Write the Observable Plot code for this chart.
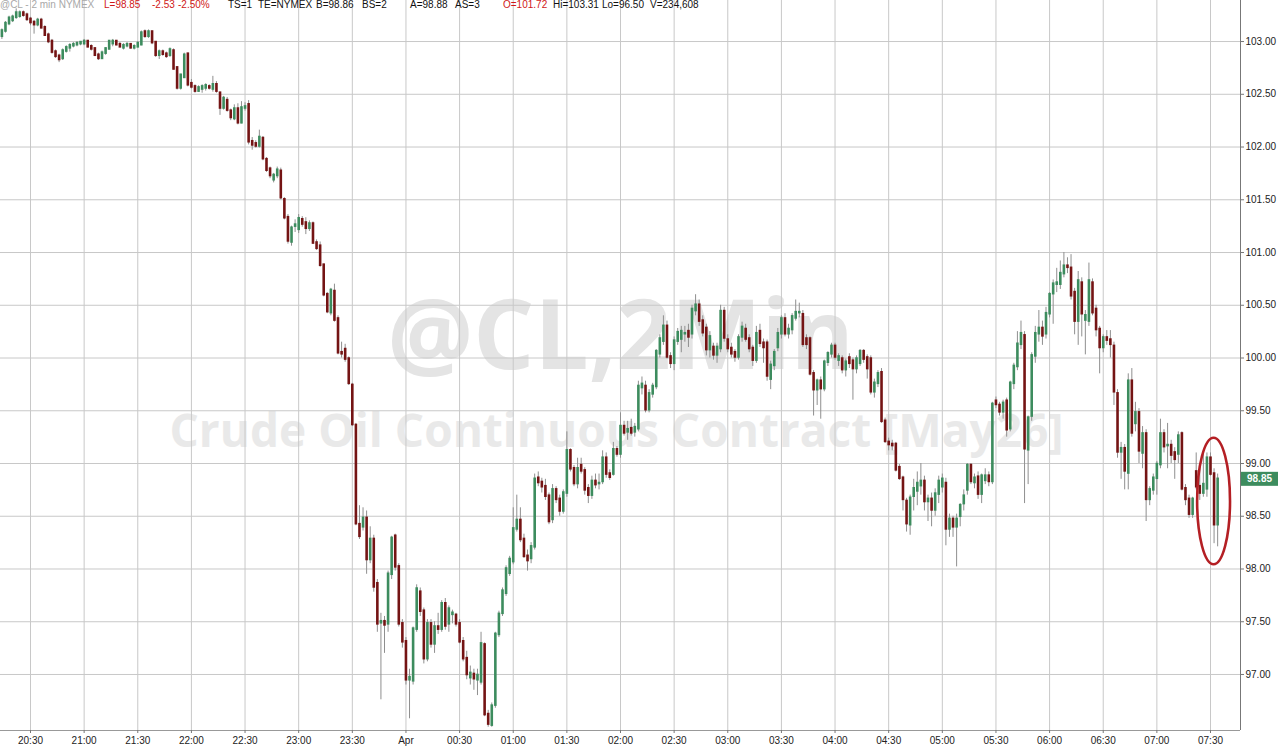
<!DOCTYPE html>
<html><head><meta charset="utf-8">
<script src="https://cdn.jsdelivr.net/npm/d3@7"></script>
<script src="https://cdn.jsdelivr.net/npm/@observablehq/plot@0.6"></script>
<style>
html,body{margin:0;padding:0;background:#fff;}
#wrap{position:relative;width:1280px;height:755px;overflow:hidden;}
#hdr{position:absolute;left:0;top:0;width:1280px;height:12px;font:10px "Liberation Sans",Arial,sans-serif;z-index:2}
#hdr span{position:absolute;top:-1px;white-space:nowrap}
</style></head><body>
<div id="wrap"><div id="hdr"></div><div id="chart"></div></div>
<script>
// ---- data (2-minute candles of @CL, starting 20:14) ----
const startTime = "2026-03-31T20:14:00Z";
const stepMinutes = 2;
const open = [
103.05,103.10,103.17,103.20,103.23,103.24,103.27,103.25,
103.21,103.18,103.16,103.20,103.13,103.06,103.00,102.90,102.86,102.84,102.91,102.94,102.96,102.97,102.98,
102.98,103.00,102.95,102.93,102.87,102.84,102.89,102.93,102.98,103.00,102.97,102.94,102.96,102.97,102.94,
102.95,102.97,103.09,103.05,103.09,102.99,102.87,102.90,102.88,102.87,102.91,102.75,102.56,102.66,102.88,
102.60,102.57,102.53,102.55,102.56,102.57,102.55,102.59,102.51,102.37,102.44,102.34,102.27,102.36,102.23,
102.37,102.40,102.05,102.03,102.01,102.08,101.88,101.79,101.69,101.73,101.77,101.50,101.33,101.10,101.25,
101.22,101.31,101.28,101.23,101.27,101.09,101.06,100.88,100.60,100.43,100.63,100.37,100.05,100.08,99.99,
99.74,99.36,98.42,98.40,98.48,98.09,98.28,97.86,97.49,97.50,97.48,97.95,98.31,98.02,97.48,
97.31,96.95,96.94,97.43,97.78,97.60,97.15,97.48,97.29,97.45,97.43,97.67,97.48,97.57,97.56,
97.48,97.31,97.15,96.97,97.00,96.95,96.93,97.28,96.62,96.52,96.71,97.38,97.58,97.77,97.96,
98.07,98.38,98.46,98.28,98.12,98.10,98.21,98.86,98.82,98.78,98.69,98.47,98.75,98.66,98.55,
98.72,99.12,98.95,98.81,98.98,98.93,98.76,98.70,98.83,98.81,98.83,99.05,98.90,98.90,99.13,
99.09,99.35,99.30,99.33,99.30,99.33,99.72,99.73,99.51,99.66,99.73,100.04,100.16,100.30,100.01,
99.95,100.16,100.18,100.23,100.25,100.23,100.45,100.50,100.35,100.28,100.08,100.10,100.03,100.09,100.44,
100.17,100.09,100.05,100.01,100.20,100.27,100.18,100.09,99.98,100.25,100.14,100.14,99.80,99.93,100.10,
100.23,100.37,100.23,100.27,100.38,100.43,100.41,100.18,100.18,99.85,99.70,99.78,99.71,99.96,100.04,
100.11,99.98,99.99,99.89,100.00,99.97,99.90,99.95,100.06,100.00,99.99,99.68,99.76,99.86,99.40,
99.20,99.18,99.18,98.96,98.86,98.64,98.42,98.69,98.74,98.79,98.83,98.64,98.66,98.56,98.71,
98.78,98.81,98.38,98.47,98.40,98.50,98.62,98.75,98.98,98.82,98.87,98.71,98.84,98.88,98.83,
99.59,99.55,99.49,99.59,99.33,99.76,99.92,100.13,100.21,99.13,99.45,100.02,100.23,100.28,100.23,
100.42,100.61,100.70,100.70,100.80,100.87,100.85,100.62,100.35,100.71,100.36,100.35,100.71,100.46,100.27,
100.10,100.19,100.17,100.11,99.66,99.11,99.14,98.91,99.78,99.38,99.48,99.10,99.28,98.66,98.75,
98.86,98.99,99.28,99.17,99.17,99.10,99.09,99.28,98.76,98.66,98.52,98.92,98.78,98.72,98.76,
99.05,98.90,98.42];
const high = [
103.12,103.19,103.24,103.25,103.31,103.29,103.29,103.27,
103.23,103.20,103.22,103.22,103.15,103.08,103.02,102.92,102.88,102.93,102.96,102.98,102.99,103.00,103.00,
103.02,103.01,102.97,102.94,102.89,102.91,102.94,103.01,103.02,103.01,102.99,102.98,102.99,102.98,102.97,
103.00,103.10,103.11,103.11,103.10,103.00,102.92,102.92,102.90,102.94,102.93,102.76,102.69,102.89,102.89,
102.64,102.59,102.58,102.59,102.60,102.59,102.67,102.62,102.52,102.48,102.47,102.36,102.40,102.41,102.43,
102.42,102.44,102.09,102.06,102.16,102.10,101.90,101.81,101.75,101.81,101.80,101.52,101.36,101.25,101.31,
101.36,101.34,101.33,101.30,101.29,101.12,101.10,100.89,100.62,100.66,100.70,100.40,100.15,100.13,100.01,
99.76,99.38,98.60,98.58,98.55,98.40,98.32,97.90,97.58,97.55,97.98,98.31,98.33,98.05,97.52,
97.35,97.05,97.45,97.85,97.82,97.63,97.52,97.52,97.50,97.58,97.70,97.72,97.65,97.61,97.58,
97.52,97.35,97.22,97.08,97.05,97.05,97.40,97.30,96.66,96.73,97.40,97.60,97.82,98.03,98.12,
98.58,98.70,98.58,98.33,98.18,98.25,98.90,98.92,98.86,98.85,98.72,98.80,98.78,98.70,98.75,
99.30,99.14,98.98,99.05,99.05,98.96,98.80,98.88,98.90,98.90,99.12,99.10,98.94,99.20,99.16,
99.48,99.40,99.40,99.42,99.38,99.78,99.82,99.78,99.70,99.76,100.08,100.22,100.40,100.35,100.05,
100.20,100.28,100.30,100.30,100.32,100.50,100.60,100.55,100.40,100.32,100.25,100.14,100.14,100.50,100.48,
100.22,100.14,100.08,100.22,100.34,100.32,100.22,100.12,100.30,100.32,100.18,100.17,99.97,100.08,100.28,
100.40,100.42,100.32,100.42,100.55,100.52,100.45,100.22,100.20,99.88,99.80,99.82,99.98,100.06,100.14,
100.14,100.04,100.02,99.99,100.04,100.00,100.02,100.08,100.08,100.03,100.02,99.80,99.88,99.90,99.43,
99.24,99.22,99.20,98.99,98.88,98.67,98.70,98.85,98.92,99.00,98.88,98.70,98.72,98.76,98.88,
98.90,98.86,98.52,98.50,98.52,98.62,98.75,99.00,99.00,98.90,98.92,98.90,98.95,98.92,99.58,
99.63,99.58,99.60,99.62,99.78,99.95,100.25,100.35,100.25,99.45,100.05,100.30,100.45,100.35,100.48,
100.62,100.74,100.85,100.92,101.00,100.95,100.98,100.66,100.82,100.76,100.45,100.90,100.75,100.50,100.30,
100.22,100.26,100.26,100.15,99.70,99.20,99.18,99.85,99.90,99.58,99.52,99.35,99.32,98.78,98.90,
99.02,99.42,99.32,99.38,99.22,99.15,99.30,99.30,98.80,98.70,98.68,99.10,98.95,99.10,99.10,
99.10,98.95,98.90];
const low = [
103.02,103.08,103.15,103.18,103.21,103.22,103.23,103.19,
103.15,103.07,103.14,103.12,103.05,102.98,102.88,102.84,102.80,102.82,102.89,102.90,102.94,102.95,102.96,
102.96,102.94,102.91,102.86,102.82,102.83,102.87,102.92,102.95,102.96,102.94,102.92,102.94,102.93,102.92,
102.94,102.96,103.03,103.03,102.97,102.85,102.83,102.86,102.84,102.85,102.73,102.54,102.54,102.65,102.57,
102.55,102.51,102.52,102.51,102.53,102.54,102.52,102.51,102.30,102.35,102.33,102.25,102.25,102.21,102.22,
102.34,102.02,101.97,101.99,101.99,101.87,101.76,101.70,101.66,101.70,101.50,101.31,101.08,101.06,101.19,
101.18,101.24,101.17,101.20,101.08,101.02,100.86,100.58,100.42,100.40,100.34,100.03,100.00,99.96,99.74,
99.35,98.41,98.28,98.36,97.95,98.05,97.78,97.40,96.76,97.20,97.40,97.90,97.98,97.45,97.25,
96.90,96.58,96.90,97.40,97.55,97.10,97.12,97.25,97.20,97.38,97.40,97.42,97.40,97.48,97.45,
97.29,97.12,96.95,96.90,96.85,96.80,96.90,96.60,96.50,96.50,96.68,97.35,97.55,97.74,97.93,
98.04,98.35,98.25,98.10,97.98,98.05,98.18,98.78,98.72,98.65,98.42,98.43,98.62,98.50,98.52,
98.68,98.92,98.78,98.76,98.90,98.70,98.62,98.66,98.76,98.75,98.80,98.86,98.84,98.88,99.06,
99.05,99.26,99.22,99.26,99.25,99.30,99.65,99.48,99.48,99.62,99.70,100.00,100.12,99.99,99.90,
99.88,100.12,100.05,100.15,100.10,100.18,100.40,100.30,100.20,100.02,100.00,99.98,99.95,100.05,100.15,
100.05,100.00,99.96,99.98,100.15,100.15,100.05,99.92,99.95,100.10,99.95,99.78,99.70,99.88,100.06,
100.18,100.20,100.18,100.22,100.35,100.38,100.10,100.08,99.83,99.45,99.55,99.42,99.68,99.92,100.00,
99.98,99.92,99.85,99.82,99.90,99.60,99.85,99.92,99.95,99.80,99.65,99.62,99.72,99.38,99.19,
99.12,99.12,98.92,98.84,98.55,98.35,98.32,98.55,98.60,98.70,98.55,98.45,98.40,98.50,98.62,
98.72,98.22,98.30,98.30,98.02,98.40,98.55,98.70,98.80,98.76,98.66,98.62,98.80,98.78,98.80,
99.52,99.45,99.42,99.25,99.30,99.70,99.88,100.08,98.62,98.80,99.40,99.95,100.15,100.12,100.18,
100.38,100.32,100.62,100.65,100.76,100.80,100.55,100.22,100.12,100.20,100.03,100.30,100.40,100.20,99.85,
100.05,100.12,100.00,99.55,99.05,98.85,98.75,98.75,99.25,99.30,99.00,98.95,98.45,98.60,98.70,
98.70,98.95,99.10,98.95,99.00,98.85,99.00,98.74,98.60,98.48,98.48,98.75,98.65,98.68,98.68,
98.88,98.24,98.21];
const close = [
103.10,103.17,103.22,103.23,103.27,103.27,103.25,103.21,
103.18,103.16,103.20,103.13,103.06,103.00,102.90,102.86,102.83,102.91,102.94,102.96,102.97,102.98,102.99,
103.00,102.95,102.93,102.87,102.84,102.89,102.93,103.00,103.00,102.97,102.95,102.96,102.97,102.94,102.95,
102.98,103.08,103.05,103.09,102.99,102.87,102.90,102.88,102.86,102.92,102.74,102.56,102.68,102.87,102.59,
102.57,102.53,102.56,102.57,102.58,102.56,102.59,102.53,102.37,102.46,102.35,102.28,102.36,102.23,102.37,
102.38,102.05,102.02,102.01,102.09,101.89,101.78,101.73,101.73,101.78,101.52,101.33,101.11,101.23,101.26,
101.32,101.27,101.23,101.27,101.09,101.04,100.88,100.60,100.44,100.64,100.36,100.05,100.04,99.99,99.76,
99.37,98.43,98.31,98.48,98.09,98.28,97.83,97.48,97.50,97.47,97.95,98.29,98.02,97.48,97.31,
96.95,96.97,97.43,97.81,97.60,97.15,97.48,97.29,97.45,97.43,97.67,97.46,97.62,97.58,97.48,
97.31,97.15,97.00,97.01,96.96,96.99,97.29,96.62,96.53,96.70,97.38,97.57,97.79,98.00,98.09,
98.38,98.46,98.28,98.12,98.08,98.21,98.85,98.82,98.78,98.69,98.45,98.75,98.66,98.55,98.72,
99.12,98.95,98.81,98.95,98.93,98.75,98.70,98.83,98.80,98.81,99.05,98.90,98.87,99.13,99.09,
99.35,99.29,99.32,99.29,99.34,99.73,99.75,99.51,99.66,99.73,100.06,100.18,100.30,100.01,99.95,
100.16,100.24,100.25,100.23,100.20,100.46,100.50,100.35,100.24,100.08,100.20,100.03,100.10,100.44,100.19,
100.09,100.04,100.01,100.19,100.29,100.18,100.09,99.98,100.23,100.14,100.10,99.83,99.93,100.05,100.23,
100.37,100.23,100.27,100.39,100.43,100.43,100.13,100.13,99.85,99.70,99.78,99.71,99.96,100.04,100.11,
100.01,100.01,99.89,99.96,99.95,99.90,99.99,100.06,99.99,99.90,99.68,99.76,99.85,99.40,99.21,
99.18,99.17,98.94,98.86,98.66,98.43,98.67,98.76,98.81,98.83,98.64,98.66,98.56,98.71,98.83,
98.85,98.38,98.47,98.40,98.47,98.60,98.69,98.98,98.83,98.86,98.71,98.88,98.88,98.83,99.56,
99.56,99.49,99.57,99.32,99.76,99.92,100.13,100.23,99.14,99.43,100.02,100.23,100.28,100.21,100.42,
100.60,100.70,100.71,100.80,100.87,100.86,100.59,100.35,100.73,100.42,100.40,100.73,100.43,100.27,100.10,
100.19,100.17,100.13,99.68,99.11,99.14,98.93,99.78,99.29,99.48,99.12,99.28,98.66,98.75,98.86,
98.99,99.28,99.16,99.17,99.08,99.04,99.26,98.76,98.66,98.52,98.66,98.78,98.72,98.80,99.05,
98.90,98.42,98.85];

const priceTicks = [97.0, 97.5, 98.0, 98.5, 99.0, 99.5, 100.0, 100.5, 101.0, 101.5, 102.0, 102.5, 103.0];
const timeTickStart = "2026-03-31T20:30:00Z";
const timeTickLabels = ["20:30","21:00","21:30","22:00","22:30","23:00","23:30","Apr","00:30","01:00","01:30","02:00","02:30","03:00","03:30","04:00","04:30","05:00","05:30","06:00","06:30","07:00","07:30"];
const lastPrice = 98.85;
const headerItems = [
  ["@CL - 2 min  NYMEX", "#a8a8a8", 0],
  ["L=98.85", "#d01818", 104],
  ["-2.53", "#d01818", 152],
  ["-2.50%", "#d01818", 178],
  ["TS=1", "#111", 228],
  ["TE=NYMEX", "#111", 258],
  ["B=98.86", "#111", 316],
  ["BS=2", "#111", 362],
  ["A=98.88", "#111", 410],
  ["AS=3", "#111", 455],
  ["O=101.72", "#d01818", 503],
  ["Hi=103.31", "#111", 553],
  ["Lo=96.50", "#111", 602],
  ["V=234,608", "#111", 650]
];
const watermarkTitle = "@CL,2Min";
const watermarkSubtitle = "Crude Oil Continuous Contract [May26]";
const highlight = {time: "2026-04-01T07:32:00Z", price: 98.64, priceHalfSpan: 0.60, minutesHalfSpan: 9.2};

// ---- build ----
const GREEN = "#3d8c5e", RED = "#741414", WICK = "#8f8f8f", GRID = "#c8c8c8";
const t0 = new Date(startTime);
const candles = close.map((c, i) => ({
  t: new Date(+t0 + i * stepMinutes * 60000),
  o: open[i], h: high[i], l: low[i], c,
  col: c >= open[i] ? GREEN : RED
}));
const tickStart = new Date(timeTickStart);
const tickDates = timeTickLabels.map((_, k) => new Date(+tickStart + k * 30 * 60000));
const fmtTime = d => timeTickLabels[Math.round((d - tickStart) / 1800000)];
const xDomain = [new Date(+tickStart - 16.78 * 60000), new Date(+tickDates[tickDates.length - 1] + 16.78 * 60000)];
const yDomain = [96.469, 103.389];

const chart = Plot.plot({
  width: 1280, height: 755,
  marginLeft: 0, marginRight: 40, marginTop: 0, marginBottom: 25,
  style: {fontFamily: "'Liberation Sans', Arial, sans-serif", fontSize: "10px", color: "#222", background: "#fff"},
  x: {type: "utc", domain: xDomain},
  y: {domain: yDomain},
  color: {type: "identity"},
  marks: [
    Plot.text([watermarkTitle], {text: d => d, frameAnchor: "middle", dx: 0, dy: -27, fontSize: 96, fontWeight: "bold", fill: "#e4e4e4", fontFamily: "'Open Sans', sans-serif"}),
    Plot.text([watermarkSubtitle], {text: d => d, frameAnchor: "middle", dx: -4, dy: 67, fontSize: 46, fontWeight: "bold", fill: "#e9e9e9", fontFamily: "'Open Sans', sans-serif"}),
    Plot.gridX(tickDates, {stroke: GRID, strokeOpacity: 1}),
    Plot.gridY(priceTicks, {stroke: GRID, strokeOpacity: 1}),
    Plot.ruleX([xDomain[1]], {stroke: "#777"}),
    Plot.ruleY([yDomain[0]], {stroke: "#999"}),
    Plot.axisX(tickDates, {tickFormat: fmtTime, tickSize: 3, tickPadding: 3, fill: "#222", stroke: "#777", label: null}),
    Plot.axisY(priceTicks, {anchor: "right", tickFormat: d => d.toFixed(2), tickSize: 3, tickPadding: 2, fill: "#222", stroke: "#777", label: null}),
    Plot.ruleX(candles, {x: "t", y1: "l", y2: "h", stroke: WICK, strokeWidth: 1}),
    Plot.ruleX(candles, {x: "t", y1: "o", y2: "c", stroke: "col", strokeWidth: 2.6, strokeLinecap: "square"})
  ]
});
document.getElementById("chart").appendChild(chart);

// annotations placed through the chart's own scales
const xs = chart.scale("x"), ys = chart.scale("y");
const svg = d3.select(chart);
const ht = new Date(highlight.time);
const cx = xs.apply(ht), cy = ys.apply(highlight.price);
const rx = xs.apply(new Date(+ht + highlight.minutesHalfSpan * 60000)) - cx;
const ry = (ys.apply(highlight.price - highlight.priceHalfSpan) - ys.apply(highlight.price + highlight.priceHalfSpan)) / 2;
svg.append("ellipse").attr("cx", cx).attr("cy", cy).attr("rx", rx).attr("ry", ry)
  .attr("fill", "none").attr("stroke", "#b41f24").attr("stroke-width", 2.6);
const ly = ys.apply(lastPrice);
svg.append("rect").attr("x", 1241).attr("y", ly - 7).attr("width", 37).attr("height", 14).attr("fill", GREEN);
svg.append("text").attr("x", 1259.5).attr("y", ly).attr("dy", "0.35em").attr("text-anchor", "middle")
  .attr("fill", "#fff").attr("font-weight", "bold").attr("font-size", 10).text(lastPrice.toFixed(2));

// header line
const hdr = document.getElementById("hdr");
headerItems.forEach(([txt, col, left]) => {
  const s = document.createElement("span");
  s.textContent = txt; s.style.color = col; s.style.left = left + "px";
  hdr.appendChild(s);
});
</script>
</body></html>
